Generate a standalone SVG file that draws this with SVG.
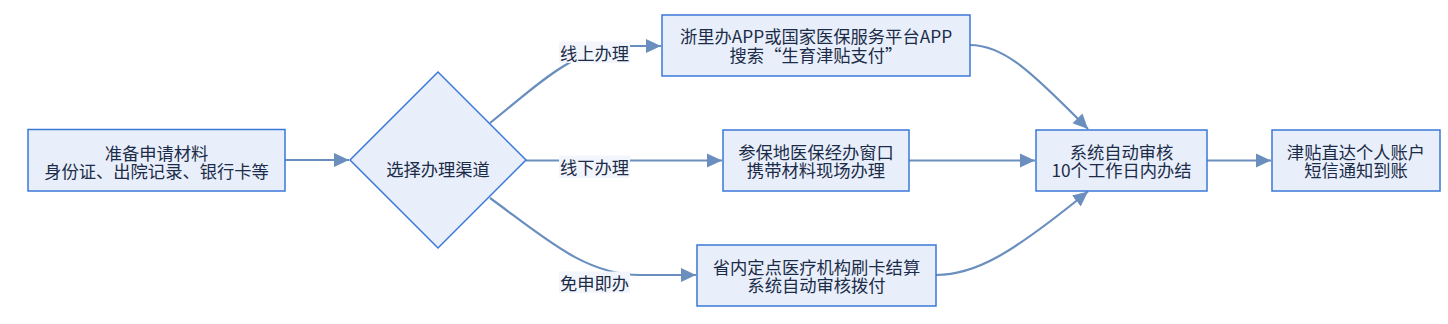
<svg xmlns="http://www.w3.org/2000/svg" width="1448" height="324" viewBox="0 0 1448 324">
<style>
.n{fill:#e8effb;stroke:#3b78d8;stroke-width:1.5}
.t{font-family:"Noto Sans CJK SC","Microsoft YaHei",sans-serif;font-size:17.3px;fill:#1c2c48;text-anchor:middle;dominant-baseline:central}
.e{fill:none;stroke:#6a8fbf;stroke-width:2.2;marker-end:url(#a)}
.lb{fill:#f2f6fc}
</style>
<defs>
<marker id="a" markerUnits="userSpaceOnUse" markerWidth="16" markerHeight="15" viewBox="0 0 16 15" refX="15" refY="7.5" orient="auto">
<path d="M0,0.5 L15,7.5 L0,14.5 Z" fill="#6a8fbf"/>
</marker>
</defs>
<rect width="1448" height="324" fill="#ffffff"/>
<g id="connectors">
<path class="e" d="M285,160 L349,160"/>
<path class="e" d="M490,123 C540,83 575,46 630,46 L661,46"/>
<path class="e" d="M526,160.5 L722,160.5"/>
<path class="e" d="M490,198 C545,238 585,275 640,275 L696,275"/>
<path class="e" d="M970,45 C1003,45 1030,70 1088,129"/>
<path class="e" d="M909,160.5 L1035,160.5"/>
<path class="e" d="M936,275 C975,275 1010,255 1088,191.5"/>
<path class="e" d="M1207,160.5 L1271,160.5"/>
<rect class="lb" x="559" y="41.5" width="71" height="21.5"/>
<text class="t" x="594.5" y="52">线上办理</text>
<rect class="lb" x="559" y="155.5" width="71" height="22.5"/>
<text class="t" x="594.5" y="166.5">线下办理</text>
<rect class="lb" x="559" y="271.5" width="71" height="21.5"/>
<text class="t" x="594.5" y="282.5">免申即办</text>
</g>
<g id="n1">
<rect class="n" x="28" y="129.5" width="257" height="61.5"/>
<text class="t" x="156.5" y="152">准备申请材料</text>
<text class="t" x="156.5" y="170.8">身份证、出院记录、银行卡等</text>
</g>
<g id="n2">
<path class="n" d="M438,72 L526,160 L438,248 L350,160 Z" stroke-width="1.2"/>
<text class="t" x="438" y="168">选择办理渠道</text>
</g>
<g id="n3">
<rect class="n" x="662" y="15" width="308" height="61"/>
<text class="t" x="816" y="35.5">浙里办APP或国家医保服务平台APP</text>
<text class="t" x="816" y="54.3">搜索“生育津贴支付”</text>
</g>
<g id="n4">
<rect class="n" x="723" y="130" width="186" height="61"/>
<text class="t" x="816" y="151">参保地医保经办窗口</text>
<text class="t" x="816" y="169.8">携带材料现场办理</text>
</g>
<g id="n5">
<rect class="n" x="697" y="245" width="239" height="61"/>
<text class="t" x="816.5" y="266">省内定点医疗机构刷卡结算</text>
<text class="t" x="816.5" y="284.8">系统自动审核拨付</text>
</g>
<g id="n6">
<rect class="n" x="1036" y="130" width="171" height="61"/>
<text class="t" x="1121.5" y="151">系统自动审核</text>
<text class="t" x="1121.5" y="169.5">10个工作日内办结</text>
</g>
<g id="n7">
<rect class="n" x="1272" y="130" width="168" height="61"/>
<text class="t" x="1356" y="151">津贴直达个人账户</text>
<text class="t" x="1356" y="169.5">短信通知到账</text>
</g>
</svg>
